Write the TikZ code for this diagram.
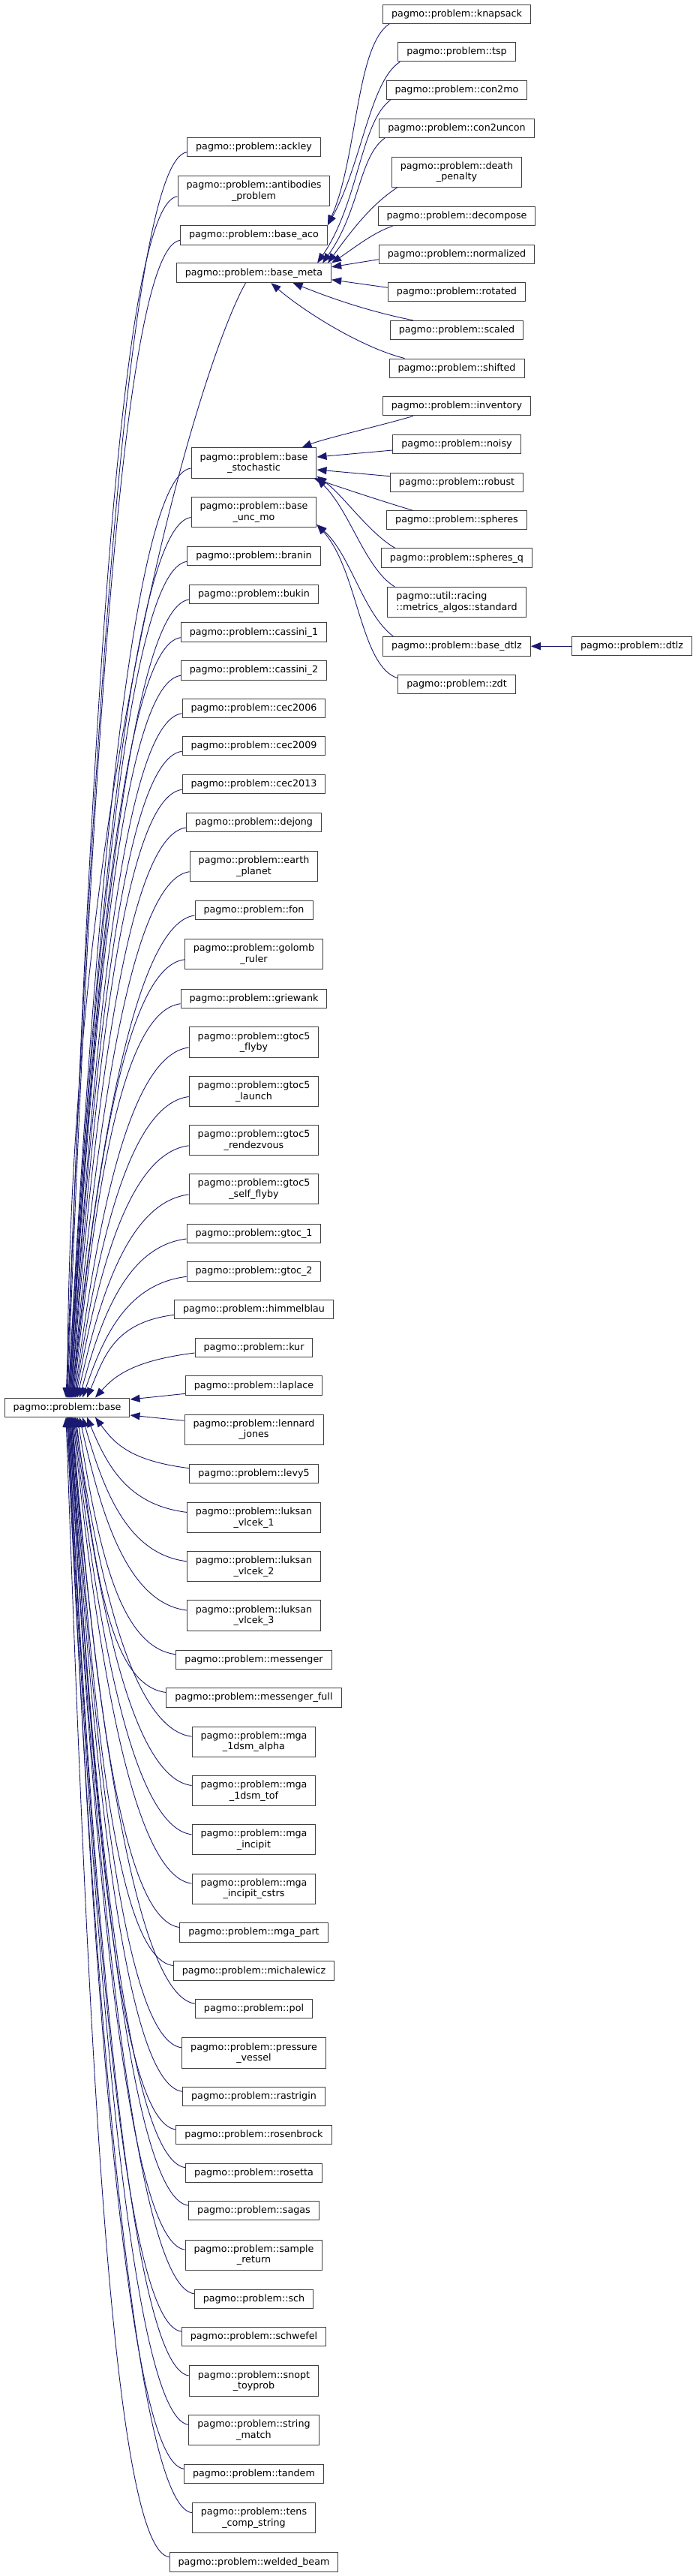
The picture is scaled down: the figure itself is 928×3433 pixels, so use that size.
\documentclass[tikz,border=0pt]{standalone}
\usepackage{fontspec}
\usepackage{tikz}
\usetikzlibrary{arrows.meta,calc}
\newfontfamily\classfont{DejaVu Sans}[Ligatures=CommonOff]
\definecolor{edgeblue}{RGB}{25,25,112}
\definecolor{boxline}{RGB}{64,64,64}
\tikzset{
  cls/.style={draw=boxline, fill=white, line width=1pt, inner xsep=11.5pt, inner ysep=6.5pt,
    align=center, font=\classfont\fontsize{12.7}{14.5}\selectfont},
  inh/.style={draw=edgeblue, line width=0.9pt, -{Triangle[length=13pt,width=10pt]}}
}

\begin{document}
\begin{tikzpicture}[x=1pt, y=-1pt]
\useasboundingbox (0,0) rectangle (928,3433);

% root class
\node[cls] (base) at (89.5,1875.7) {pagmo::problem::base};

% direct children of base
\node[cls] (ackley) at (338.5,195.8) {pagmo::problem::ackley};
\node[cls] (antibodies) at (338.5,254.7) {pagmo::problem::antibodies\\\_problem};
\node[cls] (baseaco) at (338.5,313.3) {pagmo::problem::base\_aco};
\node[cls] (basemeta) at (338.5,363.8) {pagmo::problem::base\_meta};
\node[cls] (basestoch) at (338.5,617) {pagmo::problem::base\\\_stochastic};
\node[cls] (baseuncmo) at (338.5,682.5) {pagmo::problem::base\\\_unc\_mo};
\node[cls] (branin) at (338.5,741.3) {pagmo::problem::branin};
\node[cls] (bukin) at (338.5,792) {pagmo::problem::bukin};
\node[cls] (cassini1) at (338.5,842.7) {pagmo::problem::cassini\_1};
\node[cls] (cassini2) at (338.5,893.3) {pagmo::problem::cassini\_2};
\node[cls] (cec2006) at (338.5,943.8) {pagmo::problem::cec2006};
\node[cls] (cec2009) at (338.5,994.3) {pagmo::problem::cec2009};
\node[cls] (cec2013) at (338.5,1045.3) {pagmo::problem::cec2013};
\node[cls] (dejong) at (338.5,1096) {pagmo::problem::dejong};
\node[cls] (earth) at (338.5,1154.7) {pagmo::problem::earth\\\_planet};
\node[cls] (fon) at (338.5,1213) {pagmo::problem::fon};
\node[cls] (golomb) at (338.5,1271.8) {pagmo::problem::golomb\\\_ruler};
\node[cls] (griewank) at (338.5,1330.7) {pagmo::problem::griewank};
\node[cls] (gtocvflyby) at (338.5,1389) {pagmo::problem::gtoc5\\\_flyby};
\node[cls] (gtocvlaunch) at (338.5,1454.5) {pagmo::problem::gtoc5\\\_launch};
\node[cls] (gtocvrendez) at (338.5,1519.8) {pagmo::problem::gtoc5\\\_rendezvous};
\node[cls] (gtocvself) at (338.5,1584.9) {pagmo::problem::gtoc5\\\_self\_flyby};
\node[cls] (gtocone) at (338.5,1644) {pagmo::problem::gtoc\_1};
\node[cls] (gtoctwo) at (338.5,1694.3) {pagmo::problem::gtoc\_2};
\node[cls] (himmelblau) at (338.5,1745.3) {pagmo::problem::himmelblau};
\node[cls] (kur) at (338.5,1796) {pagmo::problem::kur};
\node[cls] (laplace) at (338.5,1846.6) {pagmo::problem::laplace};
\node[cls] (lennard) at (338.5,1905.3) {pagmo::problem::lennard\\\_jones};
\node[cls] (levy5) at (338.5,1963.7) {pagmo::problem::levy5};
\node[cls] (lvone) at (338.5,2022.4) {pagmo::problem::luksan\\\_vlcek\_1};
\node[cls] (lvtwo) at (338.5,2087.8) {pagmo::problem::luksan\\\_vlcek\_2};
\node[cls] (lvthree) at (338.5,2153) {pagmo::problem::luksan\\\_vlcek\_3};
\node[cls] (messenger) at (338.5,2211.8) {pagmo::problem::messenger};
\node[cls] (messfull) at (338.5,2262.5) {pagmo::problem::messenger\_full};
\node[cls] (mgaalpha) at (338.5,2321.2) {pagmo::problem::mga\\\_1dsm\_alpha};
\node[cls] (mgatof) at (338.5,2386.5) {pagmo::problem::mga\\\_1dsm\_tof};
\node[cls] (mgaincipit) at (338.5,2451.8) {pagmo::problem::mga\\\_incipit};
\node[cls] (mgacstrs) at (338.5,2517.1) {pagmo::problem::mga\\\_incipit\_cstrs};
\node[cls] (mgapart) at (338.5,2575.5) {pagmo::problem::mga\_part};
\node[cls] (michalewicz) at (338.5,2626.5) {pagmo::problem::michalewicz};
\node[cls] (pol) at (338.5,2677.2) {pagmo::problem::pol};
\node[cls] (pressure) at (338.5,2735.9) {pagmo::problem::pressure\\\_vessel};
\node[cls] (rastrigin) at (338.5,2794.3) {pagmo::problem::rastrigin};
\node[cls] (rosenbrock) at (338.5,2845) {pagmo::problem::rosenbrock};
\node[cls] (rosetta) at (338.5,2895.7) {pagmo::problem::rosetta};
\node[cls] (sagas) at (338.5,2946.2) {pagmo::problem::sagas};
\node[cls] (samplereturn) at (338.5,3005.1) {pagmo::problem::sample\\\_return};
\node[cls] (sch) at (338.5,3063.8) {pagmo::problem::sch};
\node[cls] (schwefel) at (338.5,3114.1) {pagmo::problem::schwefel};
\node[cls] (snopt) at (338.5,3173) {pagmo::problem::snopt\\\_toyprob};
\node[cls] (stringmatch) at (338.5,3238.4) {pagmo::problem::string\\\_match};
\node[cls] (tandem) at (338.5,3297.2) {pagmo::problem::tandem};
\node[cls] (tenscomp) at (338.5,3355.7) {pagmo::problem::tens\\\_comp\_string};
\node[cls] (welded) at (338.5,3414.7) {pagmo::problem::welded\_beam};

% second level
\node[cls] (knapsack) at (609,18.7) {pagmo::problem::knapsack};
\node[cls] (tsp) at (609,69.3) {pagmo::problem::tsp};
\node[cls] (con2mo) at (609,120) {pagmo::problem::con2mo};
\node[cls] (con2uncon) at (609,170.7) {pagmo::problem::con2uncon};
\node[cls] (deathpen) at (609,229.2) {pagmo::problem::death\\\_penalty};
\node[cls] (decompose) at (609,288.2) {pagmo::problem::decompose};
\node[cls] (normalized) at (609,338.7) {pagmo::problem::normalized};
\node[cls] (rotated) at (609,389.3) {pagmo::problem::rotated};
\node[cls] (scaled) at (609,440) {pagmo::problem::scaled};
\node[cls] (shifted) at (609,490.7) {pagmo::problem::shifted};
\node[cls] (inventory) at (609,541.3) {pagmo::problem::inventory};
\node[cls] (noisy) at (609,592) {pagmo::problem::noisy};
\node[cls] (robust) at (609,642.7) {pagmo::problem::robust};
\node[cls] (spheres) at (609,693.3) {pagmo::problem::spheres};
\node[cls] (spheresq) at (609,743.8) {pagmo::problem::spheres\_q};
\node[cls, align=left] (racing) at (609,802.7) {pagmo::util::racing\\::metrics\_algos::standard};
\node[cls] (basedtlz) at (609,861.2) {pagmo::problem::base\_dtlz};
\node[cls] (zdt) at (609,911.7) {pagmo::problem::zdt};
\node[cls] (dtlz) at (842.5,861.2) {pagmo::problem::dtlz};

% edges into base, from above
\foreach \c/\e in {ackley/-1.5, antibodies/-0.5, baseaco/0.5, basestoch/1.5, baseuncmo/1.5,
    branin/2.5, bukin/2.5, cassini1/3.5, cassini2/3.5, cec2006/4.5, cec2009/4.5, cec2013/5.5,
    dejong/5.5, earth/6.5, fon/6.5, golomb/7.5, griewank/8.5, gtocvflyby/9.5, gtocvlaunch/10.5,
    gtocvrendez/11.5, gtocvself/13.5, gtocone/16.5, gtoctwo/20.5, himmelblau/26.5, kur/37.5}
  \draw[inh] let \p1=([yshift=-7pt]\c.west), \p2=([xshift=\e*1pt]base.north) in
    (\p1) .. controls ({\x1-80pt},{\y1-10pt}) and ({\x2+0.2*(\x1-\x2)},{(\y1+\y2)/2}) .. (\p2);
\draw[inh] ([xshift=-11pt]basemeta.south) .. controls +(-60,105) and +(0,-800) .. ([xshift=0.5pt]base.north);
\draw[inh] ([yshift=-10.7pt]laplace.west) -- ([yshift=10.7pt]base.east);

% edges into base, from below
\draw[inh] ([yshift=12pt]lennard.west) -- ([yshift=-10.3pt]base.east);
\foreach \c/\e in {levy5/37.5, lvone/26.5, lvtwo/20.5, lvthree/16.5, messenger/13.5, messfull/11.5,
    mgaalpha/10.5, mgatof/9.5, mgaincipit/8.5, mgacstrs/7.5, mgapart/6.5, michalewicz/6.5,
    pol/5.5, pressure/5.5, rastrigin/4.5, rosenbrock/4.5, rosetta/3.5, sagas/3.5,
    samplereturn/2.5, sch/2.5, schwefel/1.5, snopt/1.5, stringmatch/0.5, tandem/0.5,
    tenscomp/-0.5, welded/-1.5}
  \draw[inh] let \p1=([yshift=7pt]\c.west), \p2=([xshift=\e*1pt]base.south) in
    (\p1) .. controls ({\x1-80pt},{\y1+10pt}) and ({\x2+0.2*(\x1-\x2)},{(\y1+\y2)/2}) .. (\p2);

% base_aco
\draw[inh] ([xshift=9pt]knapsack.south west) .. controls +(-45,30) and +(40,-90) .. (baseaco.north east);
\draw[inh] ([xshift=3pt]tsp.south west) .. controls +(-40,25) and +(45,-80) .. (baseaco.north east);

% base_meta
\draw[inh] ([xshift=6pt]con2mo.south west) .. controls +(-40,30) and +(55,-80) .. ([xshift=-19pt]basemeta.north east);
\draw[inh] ([xshift=8pt]con2uncon.south west) .. controls +(-35,25) and +(50,-70) .. ([xshift=-12pt]basemeta.north east);
\draw[inh] ([xshift=8pt]deathpen.south west) .. controls +(-30,20) and +(40,-55) .. ([xshift=-5pt]basemeta.north east);
\draw[inh] ([xshift=20pt]decompose.south west) .. controls +(-25,8) and +(30,-20) .. (basemeta.north east);
\draw[inh] ([yshift=-7pt]normalized.west) -- ([yshift=8pt]basemeta.east);
\draw[inh] ([yshift=6pt]rotated.west) -- ([yshift=-9pt]basemeta.east);
\draw[inh] ([xshift=31pt]scaled.north west) .. controls +(-60,-12) and +(50,20) .. ([xshift=52pt]basemeta.south);
\draw[inh] ([xshift=21pt]shifted.north west) .. controls +(-60,-15) and +(40,35) .. ([xshift=23pt]basemeta.south);

% base_stochastic
\draw[inh] ([xshift=41pt]inventory.south west) .. controls +(-40,12) and +(30,-12) .. ([xshift=-20pt]basestoch.north east);
\draw[inh] ([yshift=-8pt]noisy.west) -- ([yshift=8pt]basestoch.east);
\draw[inh] ([yshift=8pt]robust.west) -- ([yshift=-9pt]basestoch.east);
\draw[inh] ([xshift=35pt]spheres.north west) .. controls +(-50,-15) and +(30,10) .. ([xshift=-4pt]basestoch.south east);
\draw[inh] ([xshift=19pt]spheresq.north west) .. controls +(-35,-20) and +(35,25) .. ([yshift=3pt]basestoch.south east);
\draw[inh] ([xshift=10pt]racing.north west) .. controls +(-40,-25) and +(45,45) .. (basestoch.south east);

% base_unc_mo
\draw[inh] ([xshift=14pt]basedtlz.north west) .. controls +(-40,-30) and +(45,40) .. ([yshift=4pt]baseuncmo.south east);
\draw[inh] ([yshift=8pt]zdt.west) .. controls +(-50,-15) and +(55,60) .. ([yshift=4pt]baseuncmo.south east);

% base_dtlz
\draw[inh] (dtlz.west) -- (basedtlz.east);
\end{tikzpicture}
\end{document}
